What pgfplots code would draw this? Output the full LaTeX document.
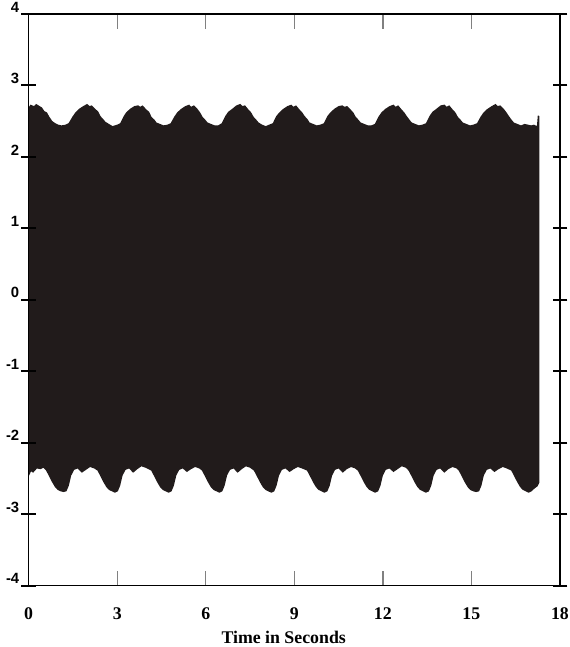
\documentclass[border=0pt]{standalone}
\usepackage{fontspec}
\setmainfont{Liberation Serif}
\newfontfamily\ylabfont{Liberation Sans}
\usepackage{pgfplots}
\pgfplotsset{compat=1.18}
\usepgfplotslibrary{fillbetween}
\definecolor{sig}{RGB}{33,27,27}
\begin{document}
\begin{tikzpicture}
\begin{axis}[
  scale only axis, axis on top,
  width=268.5pt, height=289pt,
  xmin=0, xmax=18, ymin=-4, ymax=4,
  xtick={0,3,...,18}, ytick={-4,-3,...,4},
  major tick length=7.5pt,
  tick align=center, xtick align=inside,
  xtick style={line width=0.7pt},
  ytick style={line width=1.1pt, black},
  axis line style={line width=0.8pt},
  /pgf/number format/assume math mode=true,
  xticklabel style={font=\fontsize{9}{10}\selectfont\bfseries, anchor=center, yshift=-14pt},
  yticklabel style={font=\ylabfont\bfseries\fontsize{7.5}{8}\selectfont, anchor=east, yshift=3.5pt, xshift=2.5pt},
  xlabel={Time in Seconds},
  xlabel style={font=\fontsize{9}{10}\selectfont\bfseries, anchor=center, at={(axis description cs:0.48,0)}, yshift=-26pt},
]
\addplot[name path=upper, draw=none] coordinates {
(0,2.69) (0.06,2.73) (0.18,2.71) (0.25,2.74) (0.37,2.71) (0.45,2.69) (0.53,2.64) (0.62,2.62) (0.70,2.56) (0.80,2.50) (0.90,2.47) (1.00,2.45) (1.11,2.44) (1.25,2.45) (1.35,2.47) (1.48,2.56) (1.58,2.62) (1.70,2.67) (1.85,2.71)
(1.98,2.74) (2.06,2.71) (2.14,2.72) (2.26,2.67) (2.36,2.63) (2.43,2.57) (2.52,2.53) (2.60,2.49) (2.72,2.46) (2.84,2.43) (3.00,2.45) (3.10,2.47) (3.22,2.57) (3.30,2.62) (3.43,2.67) (3.58,2.71)
(3.71,2.72) (3.78,2.70) (3.86,2.72) (3.99,2.66) (4.08,2.63) (4.16,2.56) (4.26,2.52) (4.33,2.48) (4.45,2.46) (4.57,2.44) (4.70,2.45) (4.81,2.47) (4.93,2.56) (5.03,2.62) (5.16,2.67) (5.31,2.71)
(5.44,2.73) (5.50,2.70) (5.60,2.72) (5.72,2.67) (5.81,2.62) (5.89,2.56) (5.98,2.52) (6.06,2.48) (6.18,2.46) (6.30,2.44) (6.42,2.44) (6.54,2.47) (6.66,2.57) (6.76,2.63) (6.89,2.67) (7.04,2.72)
(7.17,2.74) (7.24,2.71) (7.33,2.72) (7.45,2.66) (7.54,2.62) (7.62,2.56) (7.71,2.52) (7.79,2.48) (7.91,2.45) (8.03,2.43) (8.15,2.45) (8.27,2.47) (8.39,2.57) (8.49,2.62) (8.62,2.67) (8.77,2.71)
(8.90,2.73) (8.97,2.70) (9.06,2.72) (9.18,2.66) (9.27,2.62) (9.35,2.57) (9.44,2.53) (9.52,2.48) (9.64,2.46) (9.76,2.44) (9.88,2.45) (10.00,2.47) (10.12,2.57) (10.22,2.62) (10.35,2.67) (10.50,2.71)
(10.63,2.72) (10.70,2.70) (10.79,2.71) (10.91,2.66) (11.00,2.62) (11.08,2.56) (11.17,2.52) (11.25,2.48) (11.37,2.46) (11.49,2.44) (11.61,2.44) (11.73,2.46) (11.85,2.56) (11.95,2.62) (12.08,2.67) (12.23,2.71)
(12.36,2.73) (12.43,2.70) (12.52,2.72) (12.64,2.66) (12.73,2.62) (12.81,2.57) (12.90,2.52) (12.98,2.48) (13.10,2.46) (13.22,2.44) (13.34,2.45) (13.46,2.47) (13.58,2.57) (13.68,2.63) (13.81,2.67) (13.96,2.72)
(14.09,2.73) (14.16,2.70) (14.25,2.72) (14.37,2.66) (14.46,2.62) (14.54,2.56) (14.63,2.52) (14.71,2.48) (14.83,2.46) (14.95,2.44) (15.07,2.45) (15.19,2.47) (15.31,2.56) (15.41,2.62) (15.54,2.67) (15.69,2.71)
(15.82,2.74) (15.89,2.71) (15.98,2.72) (16.10,2.67) (16.19,2.62) (16.27,2.57) (16.36,2.52) (16.44,2.48) (16.56,2.46) (16.68,2.44) (16.80,2.46) (16.92,2.45) (17.02,2.44) (17.12,2.45) (17.22,2.43) (17.25,2.58) (17.30,2.57)
};
\addplot[name path=lower, draw=none] coordinates {
(0,-2.47) (0.08,-2.40) (0.15,-2.42) (0.28,-2.36) (0.40,-2.37) (0.50,-2.35) (0.59,-2.39)
(0.68,-2.46) (0.79,-2.55) (0.89,-2.62) (0.98,-2.66) (1.08,-2.68) (1.18,-2.69) (1.28,-2.68) (1.36,-2.60) (1.44,-2.46) (1.54,-2.38) (1.66,-2.36) (1.80,-2.42) (1.94,-2.38) (2.08,-2.34) (2.22,-2.36) (2.33,-2.39)
(2.42,-2.46) (2.53,-2.55) (2.63,-2.62) (2.72,-2.66) (2.82,-2.68) (2.92,-2.70) (3.02,-2.68) (3.10,-2.60) (3.18,-2.46) (3.28,-2.38) (3.40,-2.36) (3.54,-2.42) (3.68,-2.37) (3.82,-2.33) (3.96,-2.35) (4.15,-2.39)
(4.24,-2.46) (4.35,-2.55) (4.45,-2.62) (4.54,-2.66) (4.64,-2.68) (4.74,-2.70) (4.84,-2.68) (4.92,-2.60) (5.00,-2.46) (5.10,-2.38) (5.22,-2.36) (5.36,-2.41) (5.50,-2.37) (5.64,-2.34) (5.78,-2.36) (5.87,-2.39)
(5.96,-2.46) (6.07,-2.55) (6.17,-2.62) (6.26,-2.66) (6.36,-2.68) (6.46,-2.70) (6.56,-2.68) (6.64,-2.60) (6.72,-2.46) (6.82,-2.38) (6.94,-2.36) (7.08,-2.42) (7.22,-2.37) (7.36,-2.33) (7.50,-2.35) (7.63,-2.39)
(7.72,-2.46) (7.83,-2.55) (7.93,-2.62) (8.02,-2.66) (8.12,-2.68) (8.22,-2.70) (8.32,-2.68) (8.40,-2.60) (8.48,-2.46) (8.58,-2.38) (8.70,-2.36) (8.84,-2.41) (8.98,-2.37) (9.12,-2.34) (9.26,-2.36) (9.43,-2.39)
(9.52,-2.46) (9.63,-2.55) (9.73,-2.62) (9.82,-2.66) (9.92,-2.68) (10.02,-2.70) (10.12,-2.68) (10.20,-2.60) (10.28,-2.46) (10.38,-2.38) (10.50,-2.36) (10.64,-2.42) (10.78,-2.37) (10.92,-2.34) (11.06,-2.36) (11.15,-2.39)
(11.24,-2.46) (11.35,-2.55) (11.45,-2.62) (11.54,-2.66) (11.64,-2.68) (11.74,-2.70) (11.84,-2.68) (11.92,-2.60) (12.00,-2.46) (12.10,-2.38) (12.22,-2.36) (12.36,-2.41) (12.50,-2.37) (12.64,-2.33) (12.78,-2.35) (12.87,-2.39)
(12.96,-2.46) (13.07,-2.55) (13.17,-2.62) (13.26,-2.66) (13.36,-2.68) (13.46,-2.70) (13.56,-2.68) (13.64,-2.60) (13.72,-2.46) (13.82,-2.38) (13.94,-2.36) (14.08,-2.42) (14.22,-2.37) (14.36,-2.34) (14.50,-2.36) (14.57,-2.39)
(14.66,-2.46) (14.77,-2.55) (14.87,-2.62) (14.96,-2.66) (15.06,-2.68) (15.16,-2.69) (15.26,-2.68) (15.34,-2.60) (15.42,-2.46) (15.52,-2.38) (15.64,-2.36) (15.78,-2.41) (15.92,-2.37) (16.06,-2.34) (16.20,-2.36) (16.35,-2.39)
(16.44,-2.46) (16.55,-2.55) (16.65,-2.62) (16.74,-2.66) (16.84,-2.68) (16.94,-2.70) (17.04,-2.68) (17.14,-2.64) (17.24,-2.61) (17.30,-2.56)
};
\addplot[fill=sig, draw=none] fill between[of=upper and lower];
\end{axis}
\pgfresetboundingbox
\path[use as bounding box] (-14.5pt,-31pt) rectangle (273.5pt,296pt);
\end{tikzpicture}
\end{document}
